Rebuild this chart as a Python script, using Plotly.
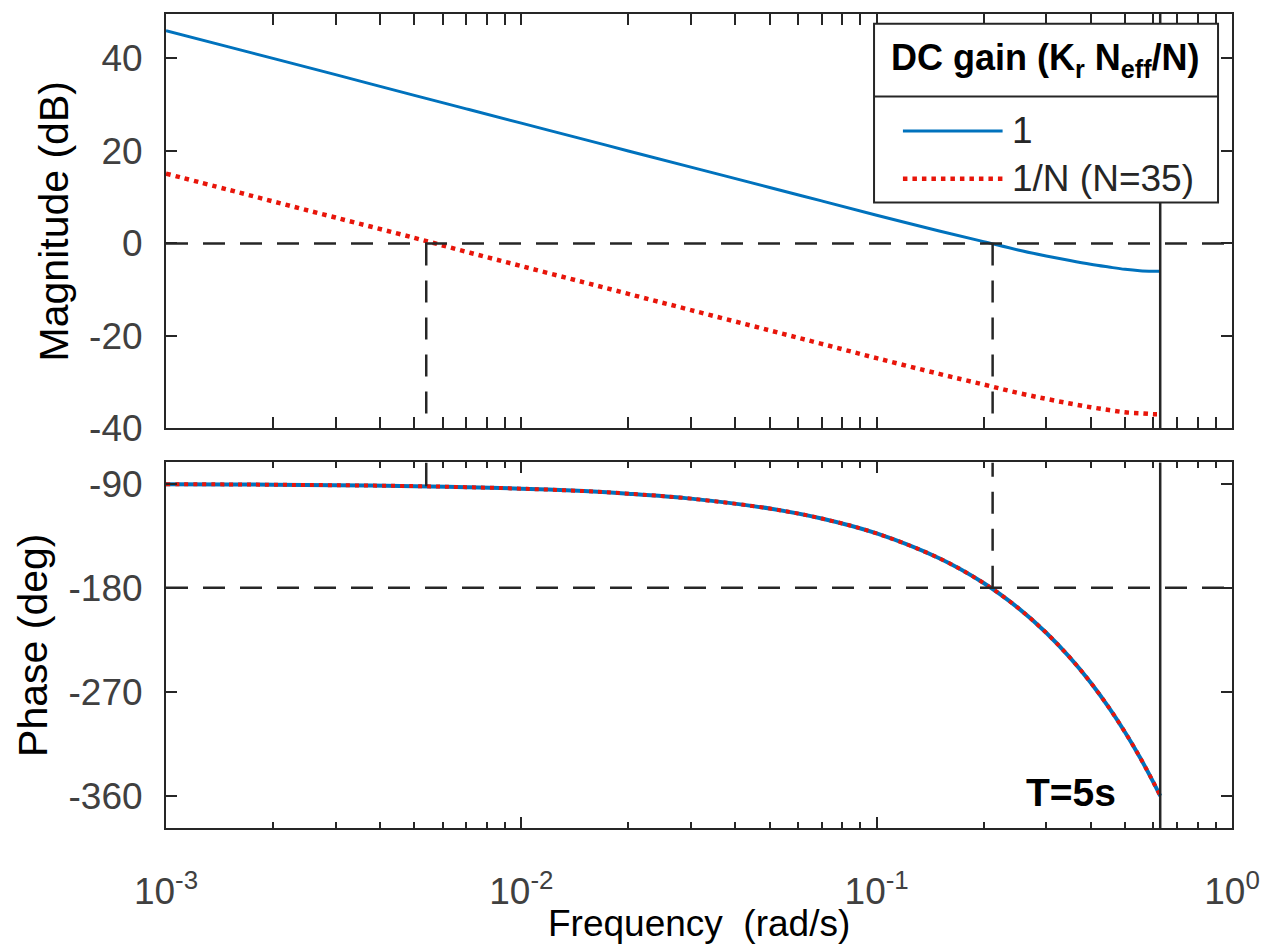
import plotly.graph_objects as go
from plotly.subplots import make_subplots

# ---- data ----
freq = [0.001, 0.0015, 0.002, 0.003, 0.005, 0.007, 0.01, 0.015, 0.02, 0.03, 0.05,
        0.07, 0.1, 0.15, 0.2, 0.25, 0.3, 0.35, 0.4, 0.45, 0.5, 0.55, 0.6, 0.628]
mag_1 = [46.0, 42.5, 40.0, 36.5, 32.0, 29.1, 26.0, 22.5, 20.0, 16.5, 12.1,
         9.2, 6.1, 2.7, 0.4, -1.4, -2.7, -3.7, -4.5, -5.1, -5.6, -5.9, -6.0, -6.0]
mag_N = [15.1, 11.6, 9.1, 5.6, 1.2, -1.8, -4.9, -8.4, -10.9, -14.4, -18.8,
         -21.7, -24.8, -28.2, -30.5, -32.3, -33.6, -34.6, -35.4, -36.0, -36.5, -36.7, -36.9, -36.9]
phase_1 = [-90.4, -90.6, -90.9, -91.3, -92.1, -93.0, -94.3, -96.4, -98.6, -102.9, -111.5,
           -120.1, -133.0, -154.5, -175.9, -197.4, -218.9, -240.4, -261.9, -283.4, -304.9,
           -326.3, -347.8, -359.9]
phase_N = [-90.4, -90.6, -90.9, -91.3, -92.1, -93.0, -94.3, -96.4, -98.6, -102.9, -111.5,
           -120.1, -133.0, -154.5, -175.9, -197.4, -218.9, -240.4, -261.9, -283.4, -304.9,
           -326.3, -347.8, -359.9]
series_names = ["1", "1/N (N=35)"]
legend_title = "<b>DC gain (K<sub>r</sub> N<sub>eff</sub>/N)</b>"
wc_N = 0.0054      # 0 dB crossing, 1/N curve
wc_1 = 0.212       # 0 dB crossing, gain 1 curve
w_nyq = 0.628      # Nyquist frequency (T=5s)
phase_at_wcN = -92.3
mag_ticks = [-40, -20, 0, 20, 40]
mag_ticktext = ["-40", "-20", "0", "20", "40"]
phase_ticks = [-360, -270, -180, -90]
phase_ticktext = ["-360", "-270", "-180", "-90"]
x_tickvals = [0.001, 0.01, 0.1, 1]
x_ticktext = ["10<sup>-3</sup>", "10<sup>-2</sup>", "10<sup>-1</sup>", "10<sup>0</sup>"]
mag_range = [-40, 49.6]
phase_range = [-387.7, -71.6]

BLUE = "#0072BD"
RED = "#E8150A"
AX = "#262626"
FONT = "Liberation Sans, Arial, sans-serif"

fig = make_subplots(rows=2, cols=1, vertical_spacing=0.0417)

fig.add_trace(go.Scatter(x=freq, y=mag_1, mode="lines", name=series_names[0],
                         line=dict(color=BLUE, width=3, shape="spline")), row=1, col=1)
fig.add_trace(go.Scatter(x=freq, y=mag_N, mode="lines", name=series_names[1],
                         line=dict(color=RED, width=4.5, dash="4.5px,5px", shape="spline")), row=1, col=1)
fig.add_trace(go.Scatter(x=freq, y=phase_1, mode="lines", name=series_names[0], showlegend=False,
                         line=dict(color=BLUE, width=4, shape="spline")), row=2, col=1)
fig.add_trace(go.Scatter(x=freq, y=phase_N, mode="lines", name=series_names[1], showlegend=False,
                         line=dict(color=RED, width=4, dash="4px,5px", shape="spline")), row=2, col=1)

axis_common = dict(showline=True, linecolor=AX, linewidth=2, mirror="allticks",
                   ticks="inside", ticklen=11, tickwidth=2, tickcolor=AX,
                   showgrid=False, zeroline=False,
                   tickfont=dict(family=FONT, size=37, color="#404040"))

xcommon = dict(axis_common, type="log", range=[-3, 0],
               minor=dict(ticks="inside", ticklen=6, tickwidth=1.5, tickcolor=AX,
                          dtick="D1", showgrid=False))
fig.update_xaxes(xcommon)
fig.update_xaxes(showticklabels=False, row=1, col=1)
fig.update_xaxes(tickvals=x_tickvals, ticktext=x_ticktext, ticklabelstandoff=30, row=2, col=1)

fig.update_yaxes(axis_common)
fig.update_yaxes(range=mag_range, tickvals=mag_ticks, ticktext=mag_ticktext, ticklabelstandoff=14,
                 domain=[0.4908, 1.0],
                 title=dict(text="Magnitude (dB)", font=dict(family=FONT, size=41, color="black"),
                            standoff=8), row=1, col=1)
fig.update_yaxes(range=phase_range, tickvals=phase_ticks, ticktext=phase_ticktext, ticklabelstandoff=14,
                 domain=[0.0, 0.4491],
                 title=dict(text="Phase (deg)", font=dict(family=FONT, size=41, color="black"),
                            standoff=8), row=2, col=1)

dash = "22px,15px"
shapes = [
    # magnitude panel
    dict(type="line", xref="x domain", yref="y", x0=0, x1=1, y0=0, y1=0,
         line=dict(color=AX, width=2.5, dash=dash)),
    dict(type="line", xref="x", yref="y", x0=wc_N, x1=wc_N, y0=0, y1=mag_range[0],
         line=dict(color=AX, width=2.5, dash=dash)),
    dict(type="line", xref="x", yref="y", x0=wc_1, x1=wc_1, y0=0, y1=mag_range[0],
         line=dict(color=AX, width=2.5, dash=dash)),
    dict(type="line", xref="x", yref="y domain", x0=w_nyq, x1=w_nyq, y0=0, y1=1,
         line=dict(color=AX, width=2.5)),
    # phase panel
    dict(type="line", xref="x2 domain", yref="y2", x0=0, x1=1, y0=-180, y1=-180,
         line=dict(color=AX, width=2.5, dash=dash)),
    dict(type="line", xref="x2", yref="y2", x0=wc_N, x1=wc_N, y0=phase_at_wcN, y1=phase_range[1],
         line=dict(color=AX, width=2.5)),
    dict(type="line", xref="x2", yref="y2", x0=wc_1, x1=wc_1, y0=-180, y1=phase_range[1],
         line=dict(color=AX, width=2.5, dash=dash)),
    dict(type="line", xref="x2", yref="y2 domain", x0=w_nyq, x1=w_nyq, y0=0, y1=1,
         line=dict(color=AX, width=2.5)),
    # legend box
    dict(type="rect", xref="paper", yref="paper", x0=0.6642, x1=0.9869, y0=0.7684, y1=0.9881,
         fillcolor="white", line=dict(color=AX, width=2)),
    dict(type="line", xref="paper", yref="paper", x0=0.6642, x1=0.9869, y0=0.8985, y1=0.8985,
         line=dict(color=AX, width=2)),
    dict(type="line", xref="paper", yref="paper", x0=0.6913, x1=0.7848, y0=0.8564, y1=0.8564,
         line=dict(color=BLUE, width=3)),
    dict(type="line", xref="paper", yref="paper", x0=0.6913, x1=0.7848, y0=0.7975, y1=0.7975,
         line=dict(color=RED, width=4.5, dash="4.5px,5px")),
]
fig.update_layout(shapes=shapes)

annotations = [
    dict(text=legend_title, xref="paper", yref="paper", x=0.8255, y=0.9436,
         xanchor="center", yanchor="middle", showarrow=False,
         font=dict(family=FONT, size=36, color="black")),
    dict(text=series_names[0], xref="paper", yref="paper", x=0.7914, y=0.8564,
         xanchor="left", yanchor="middle", showarrow=False,
         font=dict(family=FONT, size=37, color="#262626")),
    dict(text=series_names[1], xref="paper", yref="paper", x=0.7914, y=0.7975,
         xanchor="left", yanchor="middle", showarrow=False,
         font=dict(family=FONT, size=37, color="#262626")),
    dict(text="<b>T=5s</b>", xref="paper", yref="paper", x=0.8485, y=0.0442,
         xanchor="center", yanchor="middle", showarrow=False,
         font=dict(family=FONT, size=39, color="black")),
    dict(text="Frequency  (rad/s)", xref="paper", yref="paper", x=0.5, y=-0.1448,
         xanchor="center", yanchor="bottom", showarrow=False,
         font=dict(family=FONT, size=37, color="black")),
]
fig.update_layout(annotations=annotations)

fig.update_layout(width=1272, height=948, showlegend=False,
                  margin=dict(l=166, r=37, t=13, b=120),
                  paper_bgcolor="white", plot_bgcolor="white",
                  font=dict(family=FONT))

fig.write_html("out.html")
